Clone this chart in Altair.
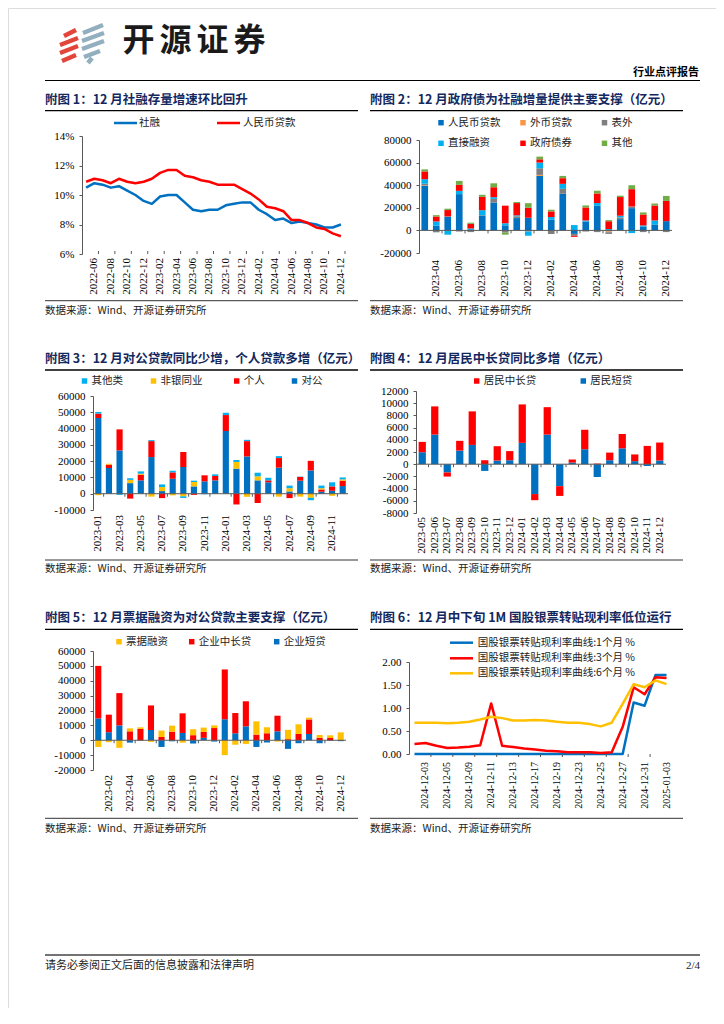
import altair as alt
import pandas as pd

# ---------------- data ----------------
months1 = ["2022-05", "2022-06", "2022-07", "2022-08", "2022-09", "2022-10", "2022-11", "2022-12",
           "2023-01", "2023-02", "2023-03", "2023-04", "2023-05", "2023-06", "2023-07", "2023-08",
           "2023-09", "2023-10", "2023-11", "2023-12", "2024-01", "2024-02", "2024-03", "2024-04",
           "2024-05", "2024-06", "2024-07", "2024-08", "2024-09", "2024-10", "2024-11", "2024-12"]
sr_growth = [10.5, 10.8, 10.7, 10.5, 10.6, 10.3, 10.0, 9.6, 9.4, 9.9, 10.0, 10.0, 9.5, 9.0, 8.9, 9.0,
             9.0, 9.3, 9.4, 9.5, 9.5, 9.0, 8.7, 8.3, 8.4, 8.1, 8.2, 8.1, 8.0, 7.8, 7.8, 8.0]
rmb_growth = [10.9, 11.1, 11.0, 10.8, 11.1, 10.9, 10.8, 10.9, 11.1, 11.5, 11.7, 11.7, 11.3, 11.2, 11.0, 10.9,
              10.7, 10.7, 10.7, 10.4, 10.1, 9.7, 9.2, 9.1, 8.9, 8.3, 8.3, 8.1, 7.8, 7.7, 7.4, 7.2]
labels1 = ["2022-06", "2022-08", "2022-10", "2022-12", "2023-02", "2023-04", "2023-06", "2023-08",
           "2023-10", "2023-12", "2024-02", "2024-04", "2024-06", "2024-08", "2024-10", "2024-12"]

months2 = ["2023-03", "2023-04", "2023-05", "2023-06", "2023-07", "2023-08", "2023-09", "2023-10",
           "2023-11", "2023-12", "2024-01", "2024-02", "2024-03", "2024-04", "2024-05", "2024-06",
           "2024-07", "2024-08", "2024-09", "2024-10", "2024-11", "2024-12"]
f2_rmb = [39500, 4100, 12100, 32100, 400, 13200, 24700, 4500, 10900, 11200, 48200, 9400, 32400, -3100,
          7900, 21800, -800, 10000, 19700, 3500, 5300, 8200]
f2_fx = [300, 0, 0, 0, 0, 0, 0, 0, 0, 0, 900, 0, 0, 0, 0, 0, -800, 0, 0, 0, 0, 0]
f2_off = [1500, -1700, 300, -1000, -1500, 300, 3200, -2000, 1500, -1000, 5900, -3200, 4400, -1700,
          -1000, -1500, -1500, 1500, 1500, -1500, 0, -1500]
f2_direct = [4000, 3800, -3800, 2900, 1300, 4400, 1500, 1800, 900, -3700, 5000, 2400, 4400, 4700,
             900, 2400, 1200, 1500, -2400, 900, 3500, 0]
f2_gov = [6900, 4400, 5600, 5300, 4100, 11800, 8800, 15600, 10900, 8800, 2900, 5000, 5000, -900,
          11500, 8500, 6900, 16500, 15300, 9700, 13200, 17900]
f2_other = [1800, 1200, 1200, 3500, 1000, 1800, 3500, -1800, 900, 4100, 2400, 1500, 2000, 0,
            1800, 2400, 1000, 1200, 3500, 1800, 1800, 4400]
names2 = ["人民币贷款", "外币贷款", "表外", "直接融资", "政府债券", "其他"]
labels2 = ["2023-04", "2023-06", "2023-08", "2023-10", "2023-12", "2024-02", "2024-04", "2024-06",
           "2024-08", "2024-10", "2024-12"]

months3 = ["2023-01", "2023-02", "2023-03", "2023-04", "2023-05", "2023-06", "2023-07", "2023-08",
           "2023-09", "2023-10", "2023-11", "2023-12", "2024-01", "2024-02", "2024-03", "2024-04",
           "2024-05", "2024-06", "2024-07", "2024-08", "2024-09", "2024-10", "2024-11", "2024-12"]
f3_corp = [46500, 15800, 26600, 6500, 8200, 22500, 1600, 9200, 16400, 4500, 7600, 8200, 38500, 15400,
           22900, 8200, 7000, 16000, 1400, 8000, 14300, 1200, 1800, 4700]
f3_pers = [2700, 2000, 12900, -3000, 3500, 9800, -2700, 3900, 9200, -700, 3700, 2700, 9800, -6600,
           9400, -5700, 1200, 5900, -2700, 2300, 5900, 1400, 2700, 3300]
f3_nonbank = [-900, 600, 0, 2000, 600, -1800, 2500, -1000, -1600, 2700, 0, 0, 0, 4100, -1900, 2500,
              0, -1800, 2000, -1800, -2500, 800, -1300, 800]
f3_other = [1000, 0, -700, 1000, 1400, 600, 1600, 1000, -1000, 800, -300, 1000, 1400, 1200, 800, 2200,
            1600, 1200, 1600, 200, -1500, 1600, 2500, 1200]
names3 = ["对公", "个人", "非银同业", "其他类"]
labels3 = ["2023-01", "2023-03", "2023-05", "2023-07", "2023-09", "2023-11", "2024-01", "2024-03",
           "2024-05", "2024-07", "2024-09", "2024-11"]

months4 = ["2023-05", "2023-06", "2023-07", "2023-08", "2023-09", "2023-10", "2023-11", "2023-12",
           "2024-01", "2024-02", "2024-03", "2024-04", "2024-05", "2024-06", "2024-07", "2024-08",
           "2024-09", "2024-10", "2024-11", "2024-12"]
f4_short = [1960, 4850, -1360, 2230, 3160, -1100, 600, 650, 3500, -4900, 4850, -3600, 270, 2450,
            -2100, 650, 2600, 500, -300, 600]
f4_long = [1700, 4630, -670, 1600, 5500, 650, 2350, 1500, 6300, -1000, 4500, -1600, 500, 3200,
           100, 1250, 2350, 1100, 3000, 2950]
names4 = ["居民短贷", "居民中长贷"]
labels4 = months4

months5 = ["2023-01", "2023-02", "2023-03", "2023-04", "2023-05", "2023-06", "2023-07", "2023-08",
           "2023-09", "2023-10", "2023-11", "2023-12", "2024-01", "2024-02", "2024-03", "2024-04",
           "2024-05", "2024-06", "2024-07", "2024-08", "2024-09", "2024-10", "2024-11", "2024-12"]
f5_short = [14700, 5400, 10000, -1600, -200, 6900, -4500, -700, 4900, -2200, 1600, -900, 14100, 4700,
            9400, -4500, -1500, 6000, -5800, -2000, 4200, -2000, -300, -600]
f5_long = [35300, 11800, 21700, 6000, 7600, 16500, 2200, 5800, 13200, 3400, 4000, 8200, 33500, 13600,
           16800, 3800, 4700, 10500, 700, 4200, 9800, 1600, 1500, 200]
f5_bill = [-4500, -1300, -5100, 2000, 1100, -1100, 4300, 4000, -1600, 4000, 2900, 1800, -10000, -3000,
           -2500, 8900, 4000, -900, 6300, 6500, 1200, 1900, 1800, 5100]
names5 = ["企业短贷", "企业中长贷", "票据融资"]
labels5 = ["2023-02", "2023-04", "2023-06", "2023-08", "2023-10", "2023-12", "2024-02", "2024-04",
           "2024-06", "2024-08", "2024-10", "2024-12"]

dates6 = ["2024-12-02", "2024-12-03", "2024-12-04", "2024-12-05", "2024-12-06", "2024-12-09",
          "2024-12-10", "2024-12-11", "2024-12-12", "2024-12-13", "2024-12-16", "2024-12-17",
          "2024-12-18", "2024-12-19", "2024-12-20", "2024-12-23", "2024-12-24", "2024-12-25",
          "2024-12-26", "2024-12-27", "2024-12-30", "2024-12-31", "2025-01-02", "2025-01-03"]
r6_1m = [0.00, 0.00, 0.00, 0.00, 0.00, 0.00, 0.00, 0.00, 0.00, 0.00, 0.00, 0.00,
         0.00, 0.00, 0.00, 0.00, 0.00, 0.00, 0.00, 0.00, 1.12, 1.05, 1.72, 1.72]
r6_3m = [0.22, 0.24, 0.18, 0.13, 0.14, 0.16, 0.19, 1.10, 0.18, 0.15, 0.12, 0.10,
         0.07, 0.06, 0.04, 0.04, 0.04, 0.02, 0.04, 0.59, 1.45, 1.30, 1.67, 1.65]
r6_6m = [0.68, 0.68, 0.68, 0.67, 0.68, 0.70, 0.75, 0.81, 0.78, 0.73, 0.73, 0.74,
         0.73, 0.70, 0.68, 0.68, 0.65, 0.60, 0.68, 1.09, 1.52, 1.45, 1.60, 1.52]
names6 = ["国股银票转贴现利率曲线:1个月 %", "国股银票转贴现利率曲线:3个月 %", "国股银票转贴现利率曲线:6个月 %"]
labels6 = ["2024-12-03", "2024-12-05", "2024-12-09", "2024-12-11", "2024-12-13", "2024-12-17",
           "2024-12-19", "2024-12-23", "2024-12-25", "2024-12-27", "2024-12-31", "2025-01-03"]

# ---------------- style ----------------
BLUE, RED, ORANGE, GRAY = "#0070C0", "#FF0000", "#F79646", "#7F7F7F"
LBLUE, GREEN, YELLOW = "#00B0F0", "#70AD47", "#FFC000"
NAVY, AX = "#13285E", "#595959"
CJK, SERIF = "Noto Sans CJK SC", "Liberation Serif"
W, H = 708, 1000
OFF = 8


def px(v):
    return v - OFF


ONE = alt.Data(values=[{}])


def xband(L, R):
    return alt.Scale(type="band", paddingInner=0, paddingOuter=0, range=[px(L), px(R)])


def yscale(dom, B, T):
    return alt.Scale(domain=dom, range=[px(B), px(T)], nice=False, zero=False)


def x_axis(B, domain):
    return alt.Axis(orient="bottom", offset=px(B) - H, labels=False, domain=domain,
                    domainColor=AX, domainWidth=1, ticks=False, tickSize=0, grid=False, title=None)


def y_axis(L, vals, expr):
    return alt.Axis(orient="left", offset=-px(L), values=vals, labelExpr=expr, grid=False,
                    domain=True, domainColor=AX, domainWidth=1, ticks=True, tickColor=AX,
                    tickSize=3, tickWidth=1, labelFont=SERIF, labelFontSize=11,
                    labelColor="#000", labelPadding=5, title=None)


def x_labels(field, cats, labels, xs, B, pad, fs=11):
    return alt.Chart(pd.DataFrame({field: labels})).mark_text(
        angle=270, align="right", baseline="middle", font=SERIF, fontSize=fs, color="#000").encode(
        x=alt.X(f"{field}:O", sort=cats, scale=xs, bandPosition=0.5, axis=None),
        y=alt.value(px(B) + pad),
        text=alt.Text(f"{field}:N"))


def long_df(cats, names, series, key="month"):
    rows = []
    for k, (nm, vals) in enumerate(zip(names, series)):
        for c, v in zip(cats, vals):
            rows.append({key: c, "series": nm, "value": v, "ord": k})
    return pd.DataFrame(rows)


def stacked(months, names, colors, series, ydom, ystep, labels, rect, pad, tick_months):
    L, R, T, B = rect
    df = long_df(months, names, series)
    xs = xband(L, R)
    bars = alt.Chart(df).mark_bar(width={"band": 0.58}).encode(
        x=alt.X("month:O", sort=months, scale=xs, axis=x_axis(B, False)),
        y=alt.Y("value:Q", stack="zero", scale=yscale(ydom, B, T),
                axis=y_axis(L, list(range(ydom[0], ydom[1] + 1, ystep)), "'' + datum.value")),
        color=alt.Color("series:N", scale=alt.Scale(domain=names, range=colors), legend=None),
        order=alt.Order("ord:Q", sort="ascending"),
    )
    zero = alt.Chart(ONE).mark_rule(color=AX, strokeWidth=1).encode(
        x=alt.value(px(L)), x2=alt.value(px(R)), y=alt.YDatum(0))
    ticks = alt.Chart(pd.DataFrame({"month": tick_months})).mark_rule(
        color=AX, strokeWidth=1, y2Offset=3).encode(
        x=alt.X("month:O", sort=months, scale=xs, bandPosition=0, axis=None),
        y=alt.YDatum(0), y2=alt.Y2Datum(0))
    labs = x_labels("month", months, labels, xs, B, pad)
    return alt.layer(bars, zero, ticks, labs)


# ---- chart 1 ----
R1 = (82, 345, 136, 254)
df1 = long_df(months1, ["社融", "人民币贷款"], [sr_growth, rmb_growth])
xs1 = xband(R1[0], R1[1])
line1 = alt.Chart(df1).mark_line(strokeWidth=2.5, strokeJoin="round").encode(
    x=alt.X("month:O", sort=months1, scale=xs1, bandPosition=0.5, axis=x_axis(R1[3], True)),
    y=alt.Y("value:Q", scale=yscale([6, 14], R1[3], R1[2]),
            axis=y_axis(R1[0], [6, 8, 10, 12, 14], "datum.value + '%'")),
    color=alt.Color("series:N", scale=alt.Scale(domain=["社融", "人民币贷款"], range=[BLUE, RED]), legend=None),
)
tick1 = alt.Chart(pd.DataFrame({"month": months1[2::2]})).mark_rule(color=AX, y2Offset=-3).encode(
    x=alt.X("month:O", sort=months1, scale=xs1, bandPosition=0, axis=None),
    y=alt.YDatum(6), y2=alt.Y2Datum(6))
tick1e = alt.Chart(pd.DataFrame({"month": months1[-1:]})).mark_rule(color=AX, y2Offset=-3).encode(
    x=alt.X("month:O", sort=months1, scale=xs1, bandPosition=1, axis=None),
    y=alt.YDatum(6), y2=alt.Y2Datum(6))
lab1 = x_labels("month", months1, labels1, xs1, R1[3], 4)
c1 = alt.layer(line1, tick1, tick1e, lab1)

# ---- chart 2 ----
c2 = stacked(months2, names2, [BLUE, ORANGE, GRAY, LBLUE, RED, GREEN],
             [f2_rmb, f2_fx, f2_off, f2_direct, f2_gov, f2_other],
             [-20000, 80000], 20000, labels2, (419, 672, 140, 253), 7, months2[2::2])
# ---- chart 3 ----
c3 = stacked(months3, names3, [BLUE, RED, YELLOW, LBLUE],
             [f3_corp, f3_pers, f3_nonbank, f3_other],
             [-10000, 60000], 10000, labels3, (93, 348, 396, 510), 5, months3[1::2])
# ---- chart 4 ----
c4 = stacked(months4, names4, [BLUE, RED], [f4_short, f4_long],
             [-8000, 12000], 2000, labels4, (416, 666, 391, 513), 4, months4[1:])
# ---- chart 5 ----
c5 = stacked(months5, names5, [BLUE, RED, YELLOW], [f5_short, f5_long, f5_bill],
             [-20000, 60000], 10000, labels5, (93, 346, 651, 770), 5, months5[2::2])

# ---- chart 6 ----
R6 = (409, 672, 662, 754)
df6 = long_df(dates6, names6, [r6_1m, r6_3m, r6_6m], key="date")
xs6 = xband(R6[0], R6[1])
line6 = alt.Chart(df6).mark_line(strokeWidth=2.5, strokeJoin="round").encode(
    x=alt.X("date:O", sort=dates6, scale=xs6, bandPosition=0.5, axis=x_axis(R6[3], True)),
    y=alt.Y("value:Q", scale=yscale([0, 2], R6[3], R6[2]),
            axis=y_axis(R6[0], [0, 0.5, 1, 1.5, 2], "format(datum.value, '.2f')")),
    color=alt.Color("series:N", scale=alt.Scale(domain=names6, range=[BLUE, RED, YELLOW]), legend=None),
    order=alt.Order("ord:Q", sort="descending"),
)
tick6 = alt.Chart(pd.DataFrame({"date": dates6[2::2]})).mark_rule(color=AX, y2Offset=3).encode(
    x=alt.X("date:O", sort=dates6, scale=xs6, bandPosition=0, axis=None),
    y=alt.YDatum(0), y2=alt.Y2Datum(0))
lab6 = x_labels("date", dates6, labels6, xs6, R6[3], 8, fs=10)
c6 = alt.layer(line6, tick6, lab6)


# ---------------- decorations ----------------
def txt(x, y, s, size=10.5, color="#222", weight="normal", align="left", font=CJK):
    return alt.Chart(ONE).mark_text(text=s, font=font, fontSize=size, fontWeight=weight, color=color,
                                    align=align, baseline="middle").encode(
        x=alt.value(px(x)), y=alt.value(px(y)))


def seg(x1, y1, x2, y2, color, w):
    return alt.Chart(ONE).mark_rule(color=color, strokeWidth=w).encode(
        x=alt.value(px(x1)), y=alt.value(px(y1)), x2=alt.value(px(x2)), y2=alt.value(px(y2)))


def sq(x, y, color):
    return alt.Chart(ONE).mark_square(size=30, color=color, opacity=1).encode(
        x=alt.value(px(x)), y=alt.value(px(y)))


decor = []
# logo
LRED, LGRAY = "#E2453A", "#92AFBF"
for (a, b, c, d) in [(64, 36, 76, 30), (60, 45, 78, 38), (60, 53, 78, 46), (62, 61, 76, 55)]:
    decor.append(seg(a, b, c, d, LRED, 4.5))
for (a, b, c, d) in [(83, 33, 103, 25), (82, 41, 104, 33), (82, 49, 104, 41), (84, 57, 100, 51), (88, 63, 92, 58)]:
    decor.append(seg(a, b, c, d, LGRAY, 4.5))
for i, ch in enumerate("开源证券"):
    decor.append(txt(138.5 + 37 * i, 41, ch, size=32, color="#1a1a1a", weight="bold", align="center"))
decor.append(txt(699, 73, "行业点评报告", size=11, color="#000", weight="bold", align="right"))
decor.append(seg(45, 80.5, 700, 80.5, "#000", 1.2))

# panel frames
titles = [
    (45, 100, "附图 1：12 月社融存量增速环比回升"),
    (370, 100, "附图 2：12 月政府债为社融增量提供主要支撑（亿元）"),
    (45, 358.5, "附图 3：12 月对公贷款同比少增，个人贷款多增（亿元）"),
    (370, 358.5, "附图 4：12 月居民中长贷同比多增（亿元）"),
    (45, 618, "附图 5：12 月票据融资为对公贷款主要支撑（亿元）"),
    (370, 618, "附图 6：12 月中下旬 1M 国股银票转贴现利率低位运行"),
]
for x, y, s in titles:
    decor.append(txt(x, y, s, size=12.5, color=NAVY, weight="bold"))
for yu, ys, yt in [(110.7, 300.7, 310.7), (370, 560, 569), (629.3, 818.3, 828.5)]:
    for x1, x2 in [(45, 358), (370, 683)]:
        decor.append(seg(x1, yu, x2, yu, "#000", 1.3))
        decor.append(seg(x1, ys, x2, ys, "#333", 1))
        decor.append(txt(x1, yt, "数据来源：Wind、开源证券研究所", size=10.5, color="#222"))

# legends
decor += [seg(114, 123, 137, 123, BLUE, 2.5), txt(139, 123, "社融"),
          seg(217, 123, 240, 123, RED, 2.5), txt(243, 123, "人民币贷款")]
leg2 = [(441, 122.7, BLUE, "人民币贷款"), (523, 122.7, ORANGE, "外币贷款"), (604.5, 122.7, GRAY, "表外"),
        (441, 143.3, LBLUE, "直接融资"), (523, 143.3, RED, "政府债券"), (604.5, 143.3, GREEN, "其他")]
leg3 = [(84.5, 381, LBLUE, "其他类"), (153.5, 381, YELLOW, "非银同业"), (236.7, 381, RED, "个人"),
        (294.5, 381, BLUE, "对公")]
leg4 = [(476.7, 381, RED, "居民中长贷"), (583.3, 381, BLUE, "居民短贷")]
leg5 = [(119, 641.7, YELLOW, "票据融资"), (191.7, 641.7, RED, "企业中长贷"), (276.7, 641.7, BLUE, "企业短贷")]
for x, y, col, s in leg2 + leg3 + leg4 + leg5:
    decor.append(sq(x, y, col))
    decor.append(txt(x + 7, y, s))
for y, col, s in [(642.7, BLUE, names6[0]), (658.3, RED, names6[1]), (673.3, YELLOW, names6[2])]:
    decor.append(seg(450, y, 473, y, col, 2.5))
    decor.append(txt(477.7, y, s))

# footer
decor.append(seg(45, 955, 700, 955, "#444", 1.5))
decor.append(txt(45, 966, "请务必参阅正文后面的信息披露和法律声明", size=11, color="#222"))
decor.append(txt(700, 966, "2/4", size=11, color="#222", align="right", font=SERIF))

chart = alt.layer(c1, c2, c3, c4, c5, c6, *decor).resolve_scale(
    x="independent", y="independent", color="independent"
).resolve_axis(x="independent", y="independent").properties(
    width=W, height=H, padding=0, background="white"
).configure_view(stroke="transparent").configure(font=CJK)

chart.save("out.html", embed_options={"renderer": "svg", "actions": False})
